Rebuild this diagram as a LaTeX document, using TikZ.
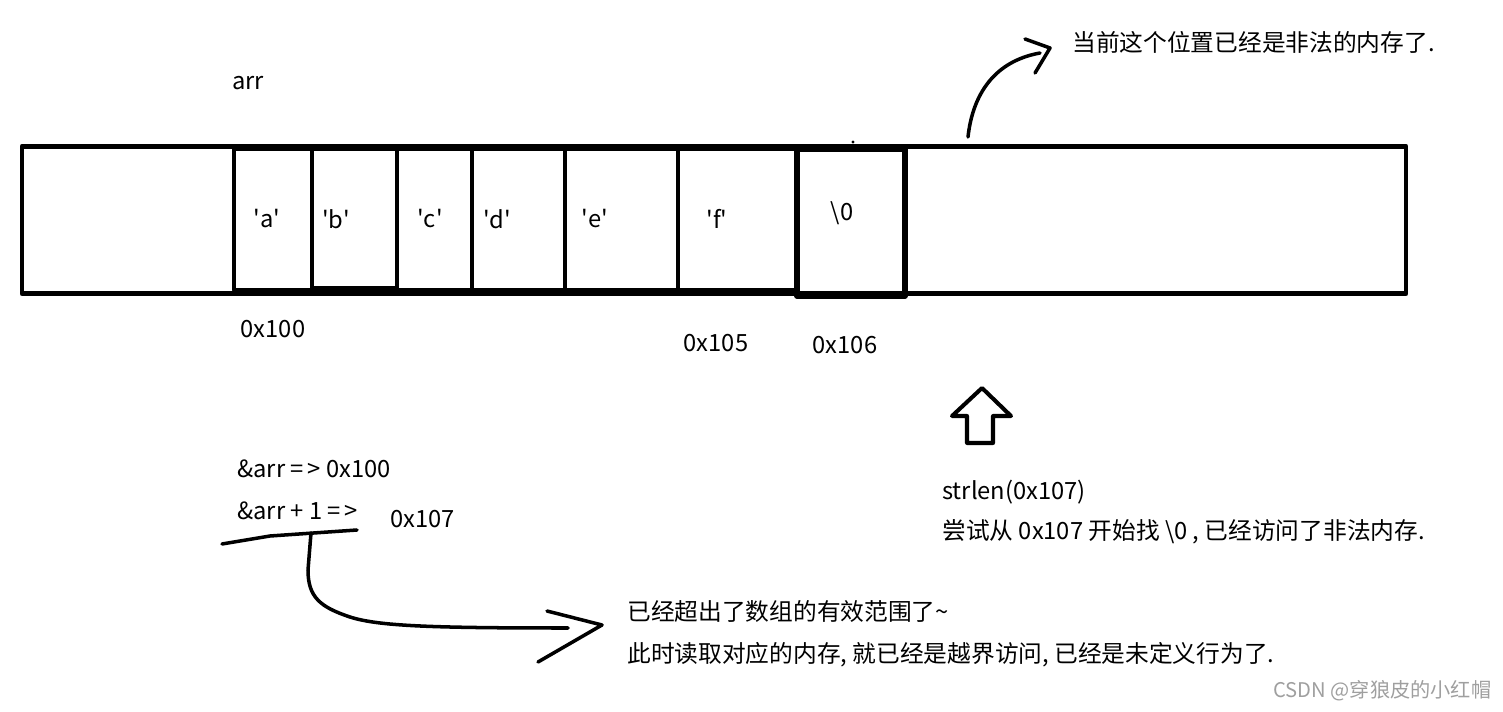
\documentclass[tikz,border=0pt]{standalone}
\usepackage{fontspec}
\setmainfont{Noto Sans CJK SC}
\newcommand{\apice}{\textquotesingle}
\begin{document}
\begin{tikzpicture}[x=0.02cm, y=-0.02cm, line cap=round, line join=round,
    every node/.style={font=\fontsize{13.5}{16}\selectfont, inner sep=0pt},
    testo/.style={anchor=west},
    bordo/.style={line width=2.8pt, line cap=butt},
    cella/.style={line width=2.5pt, line cap=butt},
    mano/.style={line width=2pt}]

    \useasboundingbox (0,0) rectangle (1503,712);

    % Blocco di memoria (rettangolo esterno)
    \draw[bordo] (22,146.5) rectangle (1406,293.5);

    % Celle dell'array arr
    \draw[cella] (234,149) rectangle (312,290);
    \draw[cella] (312,149) rectangle (397,288.5);
    \draw[cella] (397,149) rectangle (472,290);
    \draw[cella] (472,149) rectangle (565,290);
    \draw[cella] (565,149) rectangle (678,290);
    \draw[cella] (678,149) rectangle (797,290);
    % Cella del terminatore (tratto piu' spesso)
    \draw[cella, line width=3.2pt] (797,149) rectangle (905,296);
    \fill (853,142) circle (0.9pt);

    % Contenuto delle celle
    \node (ca) at (267,219) {\apice a\apice};
    \node (cb) at (336,219) {\apice b\apice};
    \node (cc) at (430,219) {\apice c\apice};
    \node (cd) at (497,219) {\apice d\apice};
    \node (ce) at (595,219) {\apice e\apice};
    \node (cf) at (717,219) {\apice f\apice};
    \node (nul) at (842,213) {\textbackslash 0};

    % Nome e indirizzi
    \node (nome) at (248,83) {arr};
    \node (ind0) at (273,329) {0x100};
    \node (ind5) at (716,343) {0x105};
    \node (ind6) at (845,345) {0x106};

    % Freccia verso la memoria non valida
    \node[testo] (avviso) at (1072,42) {当前这个位置已经是非法的内存了.};
    \coordinate (partenza) at (968,137);
    \coordinate (punta) at (1050,48);
    \draw[mano] (partenza) .. controls (972,100) and (990,62) .. (1040,53);
    \draw[mano] (1025,39) -- (punta) -- (1035,73);

    % Freccia vuota verso l'alto
    \draw[line width=2.3pt] (982,388) -- (1011,416) -- (993,416) -- (993,443)
        -- (967,443) -- (967,416) -- (952,416) -- cycle;

    % Spiegazione di strlen
    \node[testo] (strlen) at (942,492) {strlen(0x107)};
    \node[testo] (tentativo) at (942,532) {尝试从 0x107 开始找 \textbackslash 0 , 已经访问了非法内存.};

    % Indirizzi di &arr
    \node[testo] (indir) at (237,469) {\&arr =\,> 0x100};
    \node[testo] (indir1) at (237,511) {\&arr + 1 =\,>};
    \node[testo] (val) at (390,519) {0x107};

    % Sottolineatura e freccia verso la spiegazione
    \coordinate (rad) at (311,533);
    \coordinate (fine) at (602,625);
    \draw[mano] (222,544) -- (270,536) -- (357,530);
    \draw[mano] (rad) -- (308,570) .. controls (308,597) and (320,607) .. (350,617)
        .. controls (378,626) and (430,628) .. (568,628);
    \draw[mano] (547,611) -- (fine) -- (538,662);

    \node[testo] (oltre) at (627,611) {已经超出了数组的有效范围了\textasciitilde};
    \node[testo] (ub) at (627,655) {此时读取对应的内存, 就已经是越界访问, 已经是未定义行为了.};

    % Firma
    \node[testo, text=gray!75, font=\fontsize{11.5}{14}\selectfont] (firma) at (1273,691) {CSDN @穿狼皮的小红帽};

\end{tikzpicture}
\end{document}
